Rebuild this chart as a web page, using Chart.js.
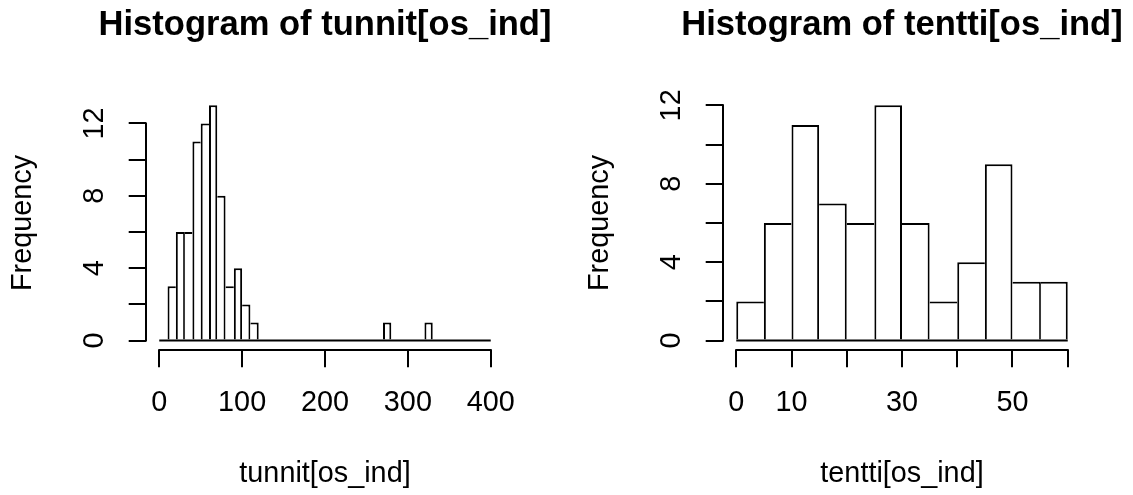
<!DOCTYPE html>
<html>
<head>
<meta charset="utf-8">
<script src="https://cdn.jsdelivr.net/npm/chart.js@4.4.1/dist/chart.umd.min.js"></script>
<style>
  html, body { margin: 0; padding: 0; background: #fff; overflow: hidden; }
  #wrap { position: relative; width: 1133px; height: 495px; overflow: hidden; }
  #left { position: absolute; left: 0; top: 0; }
  #right { position: absolute; left: 577px; top: 0; }
</style>
</head>
<body>
<div id="wrap">
  <canvas id="left" width="650" height="495"></canvas>
  <canvas id="right" width="650" height="495"></canvas>
</div>
<script>
"use strict";

// ---------------------------------------------------------------------------
// Data
// ---------------------------------------------------------------------------
const tunnitBreaks = [0, 10, 20, 30, 40, 50, 60, 70, 80, 90, 100, 110, 120, 130, 140,
  150, 160, 170, 180, 190, 200, 210, 220, 230, 240, 250, 260, 270, 280, 290, 300,
  310, 320, 330, 340, 350, 360, 370, 380, 390, 400];
const tunnitCounts = [0, 3, 6, 6, 11, 12, 13, 8, 3, 4, 2, 1,
  0, 0, 0, 0, 0, 0, 0, 0, 0, 0, 0, 0, 0, 0, 0,
  1, 0, 0, 0, 0, 1, 0, 0, 0, 0, 0, 0, 0];
const tunnitXTicks = [0, 100, 200, 300, 400];
const tunnitXLabels = ["0", "100", "200", "300", "400"];

const tenttiBreaks = [0, 5, 10, 15, 20, 25, 30, 35, 40, 45, 50, 55, 60];
const tenttiCounts = [2, 6, 11, 7, 6, 12, 6, 2, 4, 9, 3, 3];
const tenttiXTicks = [0, 10, 20, 30, 40, 50, 60];
const tenttiXLabels = ["0", "10", "", "30", "", "50", ""];

const freqTicks = [0, 2, 4, 6, 8, 10, 12];
const freqLabels = ["0", "", "4", "", "8", "", "12"];

// ---------------------------------------------------------------------------
// Look
// ---------------------------------------------------------------------------
const FONT = "'Liberation Sans', Arial, Helvetica, sans-serif";
const BLACK = "#000000";
const LW = 2;
const TICK_LEN = 17.3;
// Each canvas is symmetric around its plot region (an empty right-hand box
// mirrors the y axis), so the full-width title is centred over the plot.
const SIDE = 146;

Chart.defaults.font.family = FONT;
Chart.defaults.color = BLACK;

// R draws the axis line only between the first and last tick.
const rAxisLines = {
  id: "rAxisLines",
  afterDraw(chart) {
    const { ctx, chartArea: a, scales: { x, y } } = chart;
    const xa = x.getPixelForValue(x.ticks[0].value);
    const xb = x.getPixelForValue(x.ticks[x.ticks.length - 1].value);
    const ya = y.getPixelForValue(y.ticks[0].value);
    const yb = y.getPixelForValue(y.ticks[y.ticks.length - 1].value);
    ctx.save();
    ctx.strokeStyle = BLACK;
    ctx.lineWidth = LW;
    ctx.lineCap = "square";
    ctx.beginPath();
    ctx.moveTo(xa, a.bottom); ctx.lineTo(xb, a.bottom);
    ctx.moveTo(a.left, ya); ctx.lineTo(a.left, yb);
    ctx.stroke();
    ctx.restore();
  },
};

// Shared edges are drawn once, by the taller of the two neighbours.
function edgeWidths(counts, i) {
  const c = counts[i];
  const l = i > 0 ? counts[i - 1] : 0;
  const r = i < counts.length - 1 ? counts[i + 1] : 0;
  const side = (n) => (n > c ? 0 : n === c ? LW / 2 : LW);
  return { top: LW, bottom: 0, left: side(l), right: side(r) };
}

function histogram(id, title, xTitle, breaks, counts, xTicks, xLabels) {
  const lo = breaks[0], hi = breaks[breaks.length - 1];
  const xExt = (hi - lo) * 0.04;
  const ymax = Math.max(...counts);

  const bars = {
    type: "bar",
    order: 1,
    data: counts.map((c, i) => ({ x: (breaks[i] + breaks[i + 1]) / 2, y: c })),
    backgroundColor: "#ffffff",
    borderColor: BLACK,
    borderSkipped: false,
    inflateAmount: 0,
    borderWidth: (ctx) => edgeWidths(counts, ctx.dataIndex),
    barPercentage: 1,
    categoryPercentage: 1,
  };
  // zero-count bins collapse onto the base line
  const base = {
    type: "line",
    order: 0,
    data: [{ x: lo, y: 0 }, { x: hi, y: 0 }],
    borderColor: BLACK,
    borderWidth: LW,
    pointRadius: 0,
  };

  const grid = {
    offset: false, drawOnChartArea: false, drawTicks: true, tickLength: TICK_LEN,
    color: BLACK, tickColor: BLACK, lineWidth: LW, tickWidth: LW,
  };

  return new Chart(document.getElementById(id), {
    type: "bar",
    data: { datasets: [bars, base] },
    plugins: [rAxisLines],
    options: {
      responsive: false,
      animation: false,
      events: [],
      layout: { padding: 0 },
      plugins: {
        legend: { display: false },
        tooltip: { enabled: false },
        title: {
          display: true, text: title, color: BLACK,
          font: { size: 34.56, weight: "bold", lineHeight: 1 },
          padding: { top: 8.4, bottom: 53 },
        },
      },
      scales: {
        x: {
          type: "linear", offset: false,
          min: lo - xExt, max: hi + xExt,
          afterBuildTicks: (s) => { s.ticks = xTicks.map((v) => ({ value: v })); },
          afterFit: (s) => { s.height = 145; s.paddingLeft = 0; s.paddingRight = 0; },
          ticks: {
            autoSkip: false, minRotation: 0, maxRotation: 0, padding: 21.6,
            font: { size: 28.8, lineHeight: 1 },
            callback: (v, i) => xLabels[i],
          },
          grid,
          border: { display: false },
          title: {
            display: true, text: xTitle,
            font: { size: 28.8, lineHeight: 1 },
            padding: { top: 0, bottom: 6.6 },
          },
        },
        y: {
          type: "linear",
          min: -0.04 * ymax, max: 1.04 * ymax,
          afterBuildTicks: (s) => { s.ticks = freqTicks.map((v) => ({ value: v })); },
          afterFit: (s) => { s.width = SIDE; s.paddingTop = 0; s.paddingBottom = 0; },
          ticks: {
            autoSkip: false, minRotation: 90, maxRotation: 90, crossAlign: "center",
            padding: 17.7,
            font: { size: 28.8, lineHeight: 1 },
            callback: (v, i) => freqLabels[i],
          },
          grid,
          border: { display: false },
          title: {
            display: true, text: "Frequency",
            font: { size: 28.8, lineHeight: 1 },
            padding: { top: 8.9, bottom: 0 },
          },
        },
        // empty mirror of the y axis on the right
        spacer: {
          position: "right",
          ticks: { display: false },
          grid: { display: false },
          border: { display: false },
          afterFit: (s) => { s.width = SIDE; s.paddingTop = 0; s.paddingBottom = 0; },
        },
      },
    },
  });
}

histogram("left", "Histogram of tunnit[os_ind]", "tunnit[os_ind]",
  tunnitBreaks, tunnitCounts, tunnitXTicks, tunnitXLabels);
histogram("right", "Histogram of tentti[os_ind]", "tentti[os_ind]",
  tenttiBreaks, tenttiCounts, tenttiXTicks, tenttiXLabels);
</script>
</body>
</html>
